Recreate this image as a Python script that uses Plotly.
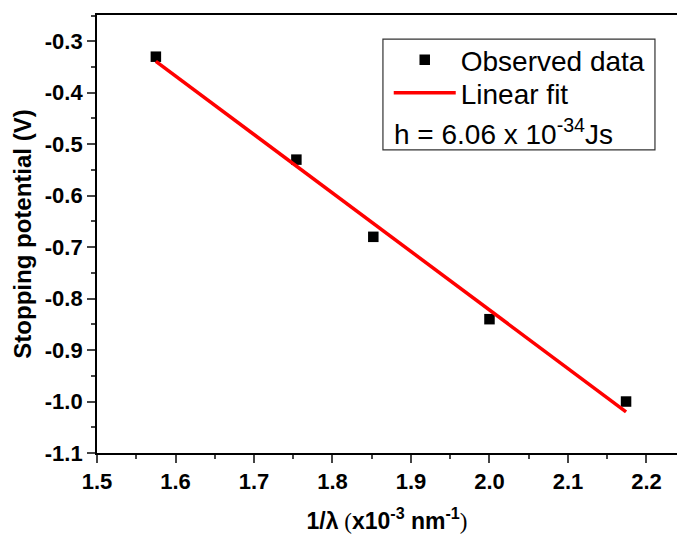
import plotly.graph_objects as go

# Data
inv_lambda = [1.575, 1.754, 1.852, 2.000, 2.174]   # 1/λ (x10^-3 nm^-1)
stop_pot = [-0.33, -0.53, -0.68, -0.84, -1.00]     # Stopping potential (V)
fit_x = [1.575, 2.174]
fit_y = [-0.339, -1.020]
x_ticks = [1.5, 1.6, 1.7, 1.8, 1.9, 2.0, 2.1, 2.2]
x_ticklabels = ["1.5", "1.6", "1.7", "1.8", "1.9", "2.0", "2.1", "2.2"]
y_ticks = [-1.1, -1.0, -0.9, -0.8, -0.7, -0.6, -0.5, -0.4, -0.3]
y_ticklabels = ["-1.1", "-1.0", "-0.9", "-0.8", "-0.7", "-0.6", "-0.5", "-0.4", "-0.3"]
h_label = "h = 6.06 x 10<sup>-34</sup>Js"

W, H = 677, 534
ml, mr, mt, mb = 97, 0, 15, 81

fig = go.Figure()
fig.add_trace(go.Scatter(
    x=inv_lambda, y=stop_pot, mode="markers", name="Observed data",
    marker=dict(symbol="square", size=10.5, color="black"), legend="legend",
))
fig.add_trace(go.Scatter(
    x=fit_x, y=fit_y, mode="lines", name="Linear fit",
    line=dict(color="#ff0000", width=3.5), legend="legend2",
))

tickfont = dict(family="Liberation Sans, Arial", size=22, color="black", weight="bold")
legfont = dict(family="Liberation Sans, Arial", size=28, color="black")

fig.update_layout(
    width=W, height=H,
    margin=dict(l=ml, r=mr, t=mt, b=mb, autoexpand=False),
    paper_bgcolor="white", plot_bgcolor="white",
    font=dict(family="Liberation Sans, Arial", color="black"),
    xaxis=dict(
        range=[1.5, 2.2389], tickmode="array", tickvals=x_ticks,
        ticktext=x_ticklabels,
        ticks="outside", ticklen=8, tickwidth=1.6,
        showline=True, linecolor="black", linewidth=1.8, mirror=True,
        showgrid=False, zeroline=False, tickfont=tickfont, automargin=False,
        minor=dict(ticks="outside", ticklen=4, tickwidth=1.6, dtick=0.05, tick0=1.5, showgrid=False),
        title=dict(
            text="<b>1/λ</b><span style='font-family:Liberation Serif'> (</span><b>x10<sup>-3</sup> nm<sup>-1</sup></b><span style='font-family:Liberation Serif'>)</span>",
            font=dict(family="Liberation Sans, Arial", size=23, color="black"),
            standoff=21,
        ),
    ),
    yaxis=dict(
        range=[-1.1, -0.249], tickmode="array", tickvals=y_ticks,
        ticktext=y_ticklabels,
        ticks="outside", ticklen=8, tickwidth=1.6,
        showline=True, linecolor="black", linewidth=1.8, mirror=False,
        showgrid=False, zeroline=False, tickfont=tickfont, automargin=False,
        minor=dict(ticks="outside", ticklen=4, tickwidth=1.6, dtick=0.05, tick0=-1.1, showgrid=False),
        title=dict(
            text="<b>Stopping potential (V)</b>",
            font=dict(family="Liberation Sans, Arial", size=24, color="black"),
            standoff=6,
        ),
    ),
    legend=dict(
        x=0.503, y=0.954, xanchor="left", yanchor="top",
        bgcolor="rgba(0,0,0,0)", borderwidth=0, font=legfont, itemwidth=62,
    ),
    legend2=dict(
        x=0.503, y=0.879, xanchor="left", yanchor="top",
        bgcolor="rgba(0,0,0,0)", borderwidth=0, font=legfont, itemwidth=62,
    ),
    showlegend=True,
)

# legend frame
fig.add_shape(type="rect", xref="paper", yref="paper",
              x0=0.493, x1=0.962, y0=0.692, y1=0.945,
              line=dict(color="#333333", width=1.2), fillcolor="rgba(0,0,0,0)")
fig.add_annotation(
    xref="paper", yref="paper", x=0.508, y=0.733, xanchor="left", yanchor="middle",
    text=h_label, showarrow=False, font=legfont,
)

fig.write_html("out.html", config={"displayModeBar": False},
               post_script="document.body.style.margin='0px';")
